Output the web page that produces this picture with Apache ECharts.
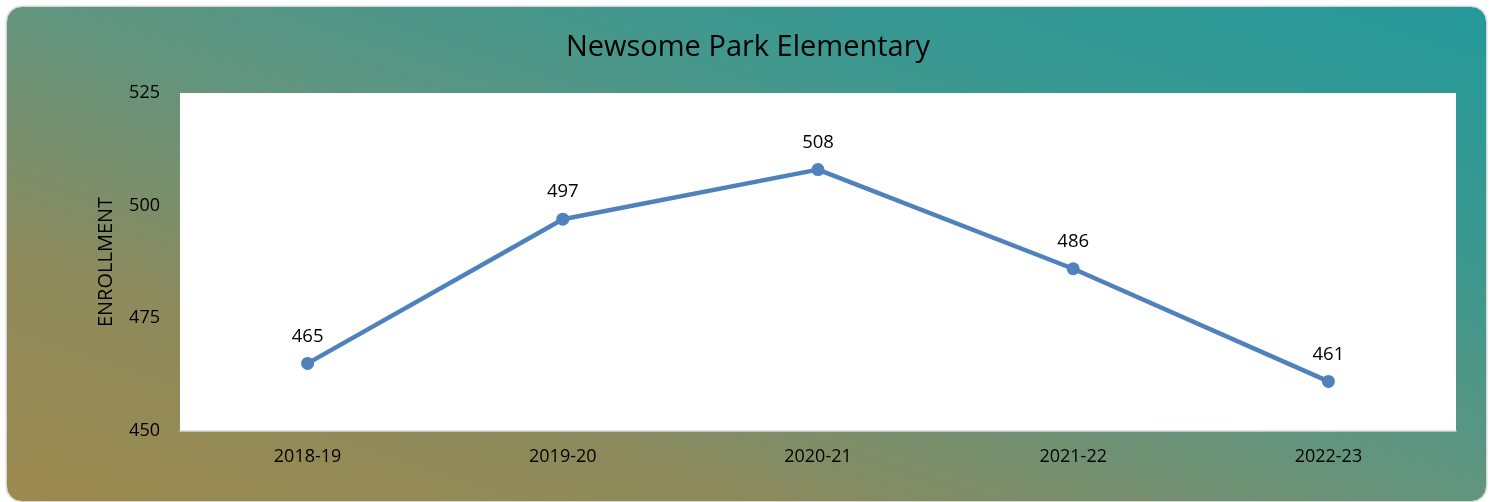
<!DOCTYPE html>
<html>
<head>
<meta charset="utf-8">
<script src="https://cdn.jsdelivr.net/npm/echarts@6/dist/echarts.min.js"></script>
<style>
  html, body { margin: 0; padding: 0; width: 1496px; height: 502px; background: #ffffff; overflow: hidden; }
  #bg {
    position: absolute; left: 6px; top: 6px; width: 1479px; height: 494px;
    border-radius: 16px;
    border: 1px solid #d4d4d4;
    box-shadow: 0 0 2px rgba(0,0,0,0.25);
    background: linear-gradient(to top right, #9c8a4e 0%, #8d8a5c 25%, #5f9580 52%, #3a9890 75%, #25999a 100%);
  }
  #chart { position: absolute; left: 0; top: 0; width: 1496px; height: 502px; }
</style>
</head>
<body>
<div id="bg"></div>
<div id="chart"></div>
<script>
const title = 'Newsome Park Elementary';
const yAxisName = 'ENROLLMENT';
const categories = ['2018-19', '2019-20', '2020-21', '2021-22', '2022-23'];
const enrollment = [465, 497, 508, 486, 461];
const yMin = 450, yMax = 525, yStep = 25;

const font = '"Open Sans", "Liberation Sans", sans-serif';
const chart = echarts.init(document.getElementById('chart'));
chart.setOption({
  backgroundColor: 'transparent',
  animation: false,
  title: {
    text: title,
    left: 'center',
    top: 28,
    textStyle: { fontFamily: font, fontSize: 29, fontWeight: 'normal', color: '#000' }
  },
  grid: {
    left: 180, right: 40, top: 93, bottom: 71,
    show: true, backgroundColor: '#ffffff', borderWidth: 0
  },
  xAxis: {
    type: 'category',
    data: categories,
    boundaryGap: true,
    axisLine: { lineStyle: { color: '#d9d9d9', width: 1.5 } },
    axisTick: { show: false },
    axisLabel: { fontFamily: font, fontSize: 18, color: '#000', margin: 17 }
  },
  yAxis: {
    type: 'value',
    min: yMin, max: yMax, interval: yStep,
    name: yAxisName,
    nameLocation: 'middle',
    nameGap: 64,
    nameTextStyle: { fontFamily: font, fontSize: 20, color: '#000' },
    axisLine: { show: false },
    axisTick: { show: false },
    splitLine: { show: false },
    axisLabel: { fontFamily: font, fontSize: 18, color: '#000', margin: 20 }
  },
  series: [{
    type: 'line',
    data: enrollment,
    symbol: 'circle',
    symbolSize: 13,
    lineStyle: { color: '#4f81bd', width: 4.5 },
    itemStyle: { color: '#4f81bd' },
    label: {
      show: true, position: 'top', distance: 11,
      fontFamily: font, fontSize: 18.5, color: '#000'
    }
  }]
});
</script>
</body>
</html>
